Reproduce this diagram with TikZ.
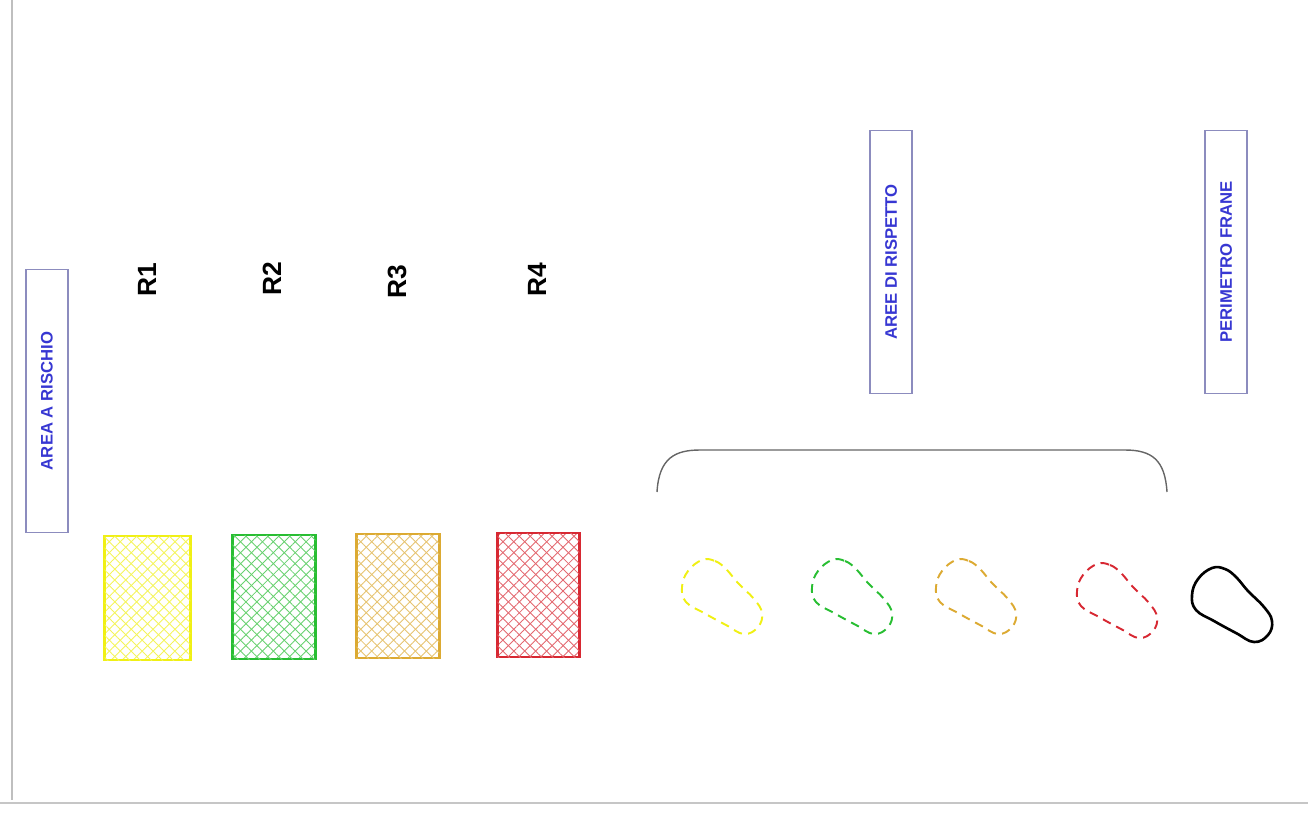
\documentclass[tikz,border=0pt]{standalone}
\usepackage{fontspec}
\setmainfont{Liberation Sans}
\usetikzlibrary{patterns.meta}

\definecolor{rYellow}{RGB}{240,240,20}
\definecolor{rGreen}{RGB}{40,190,50}
\definecolor{rOrange}{RGB}{220,170,50}
\definecolor{rRed}{RGB}{215,40,50}
\definecolor{lblBlue}{RGB}{55,55,210}
\definecolor{lblFrame}{RGB}{140,140,190}

\tikzset{
	hatchbox/.style = {draw = #1, line width = 1.6pt, minimum height = 2.48cm,
		pattern = {Lines[angle = 45, distance = 4.4pt, line width = 0.5pt]}, pattern color = #1!70,
		postaction = {pattern = {Lines[angle = -45, distance = 4.4pt, line width = 0.5pt]}, pattern color = #1!70}},
	legend/.style = {draw = lblFrame, line width = 0.9pt, rotate = 90, minimum width = 5.26cm,
		minimum height = 0.84cm, inner sep = 0pt, text = lblBlue, font = \fontsize{9.5}{11}\selectfont\bfseries},
	rlabel/.style = {rotate = 90, font = \fontsize{15}{17}\selectfont\bfseries},
	zone/.style = {draw = #1, line width = 1.1pt, dash pattern = on 5pt off 3.5pt}
}

\newcommand{\blob}[3]{%
	\begin{scope}[shift = {(#2,#3)}]
		\draw[#1] plot[smooth cycle, tension = 0.7] coordinates
		{(22,3) (35,4) (46,12) (58,26) (74,42) (82,56) (78,70) (64,77) (46,68) (24,56) (6,45) (2,30) (8,14)};
	\end{scope}}

\begin{document}
\begin{tikzpicture}[x = 0.02cm, y = -0.02cm]
		\useasboundingbox (0,0) rectangle (1308,826);
		% frame
		\draw[gray!50, line width = 0.6pt] (12,0) -- (12,800);
		\draw[gray!45, line width = 1.2pt] (0,803) -- (1308,803);
		% legends
		\node[legend] (risk) at (47,401) {AREA A RISCHIO};
		\node[legend] (resp) at (891,262) {AREE DI RISPETTO};
		\node[legend] (fran) at (1226,262) {PERIMETRO FRANE};
		% risk classes
		\node[rlabel] (r1) at (147,280) {R1};
		\node[rlabel] (r2) at (272,279) {R2};
		\node[rlabel] (r3) at (397,282) {R3};
		\node[rlabel] (r4) at (537,280) {R4};
		\node[hatchbox = rYellow, minimum width = 1.72cm] (a1) at (147.5,598) {};
		\node[hatchbox = rGreen, minimum width = 1.66cm] (a2) at (274,597) {};
		\node[hatchbox = rOrange, minimum width = 1.66cm] (a3) at (398,596) {};
		\node[hatchbox = rRed, minimum width = 1.64cm] (a4) at (538.5,595) {};
		% bracket
		\draw[gray!80!black, line width = 0.8pt] (657,492) .. controls (659,458) and (675,450) .. (700,450)
		-- (1125,450) .. controls (1152,450) and (1165,460) .. (1167,492);
		% zones
		\blob{zone = rYellow}{680}{557}
		\blob{zone = rGreen}{810}{557}
		\blob{zone = rOrange}{934}{557}
		\blob{zone = rRed}{1075}{561}
		\blob{black, line width = 1.5pt}{1190}{565}
	\end{tikzpicture}
\end{document}
